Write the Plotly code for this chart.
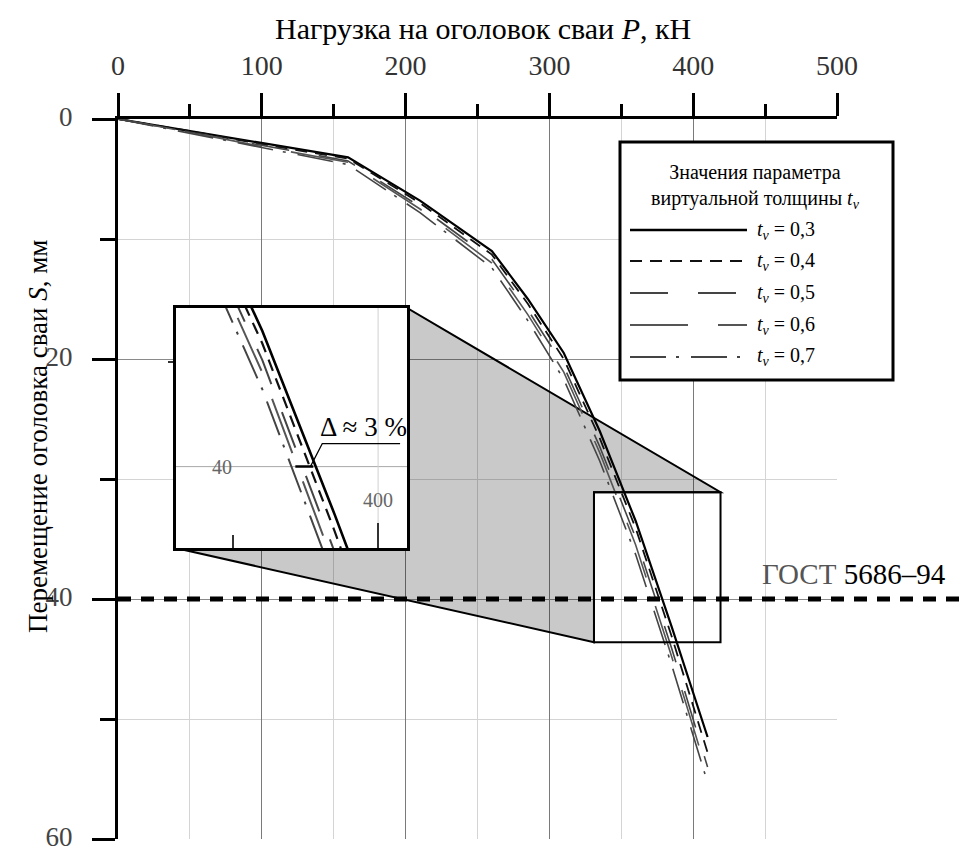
import plotly.graph_objects as go

# Load on the pile head, kN (common grid for every curve)
LOAD_KN = [0, 50, 100, 160, 210, 260, 285, 310, 335, 360, 385, 410]

# Pile head settlement, mm, for each value of the virtual thickness t_v
S_TV_03 = [0, 1.0, 2.0, 3.2, 6.8, 11.0, 15.0, 19.5, 26.0, 33.5, 42.3, 51.5]
S_TV_04 = [0, 1.0, 2.1, 3.3, 7.0, 11.3, 15.4, 20.0, 26.6, 34.1, 43.1, 52.8]
S_TV_05 = [0, 1.1, 2.2, 3.5, 7.3, 11.7, 15.9, 20.6, 27.3, 34.9, 44.1, 54.0]
S_TV_06 = [0, 1.1, 2.3, 3.6, 7.5, 12.0, 16.3, 21.1, 27.8, 35.5, 44.8, 54.6]
S_TV_07 = [0, 1.2, 2.4, 3.8, 7.8, 12.4, 16.8, 21.7, 28.5, 36.3, 45.5, 55.3]
TV_LABELS = ["0,3", "0,4", "0,5", "0,6", "0,7"]

X_TICKS = [0, 100, 200, 300, 400, 500]
X_MINOR = [50, 150, 250, 350, 450]
Y_TICKS = [0, 20, 40, 60]
Y_MINOR = [10, 30, 50]
GOST_LIMIT_MM = 40

# Zoomed window (main axes) and inset frame (main axes), plus inset ranges
ZOOM_P = (331, 419)
ZOOM_S = (31.1, 43.6)
INSET_FRAME_P = (40, 201)
INSET_FRAME_S = (15.75, 35.75)
INSET_RANGE_P = (330, 410)
INSET_RANGE_S = (32.4, 43.9)

SERIES = [S_TV_03, S_TV_04, S_TV_05, S_TV_06, S_TV_07]
STYLES = [
    dict(color="black", width=2.2, dash="solid"),
    dict(color="#111111", width=1.8, dash="12px,8px"),
    dict(color="#444444", width=1.6, dash="38px,30px"),
    dict(color="#555555", width=1.6, dash="58px,30px"),
    dict(color="#444444", width=1.6, dash="36px,10px,3px,12px"),
]

FONT = "Liberation Serif, Times New Roman, DejaVu Serif, serif"
X_MAX = X_TICKS[-1]
Y_MAX = Y_TICKS[-1]
L, R, T, B = 118, 123, 119, 13
W, H = 960, 852
PW, PH = W - L - R, H - T - B


def px(x):
    return (x - L) / PW


def py(y):
    return 1 - (y - T) / PH


fig = go.Figure()

for s, st in zip(SERIES, STYLES):
    fig.add_trace(go.Scatter(x=LOAD_KN, y=s, mode="lines", line=st,
                             xaxis="x", yaxis="y", showlegend=False, hoverinfo="skip"))
for s, st in zip(SERIES, STYLES):
    st2 = dict(st)
    st2["width"] = st["width"] + 0.4
    fig.add_trace(go.Scatter(x=LOAD_KN, y=s, mode="lines", line=st2,
                             xaxis="x2", yaxis="y2", showlegend=False, hoverinfo="skip"))

fig.update_layout(
    width=W, height=H,
    margin=dict(l=L, r=R, t=T, b=B, autoexpand=False),
    paper_bgcolor="white", plot_bgcolor="white",
    font=dict(family=FONT, color="black"),
    xaxis=dict(
        side="top", range=[0, X_MAX], domain=[0, 1], anchor="y", automargin=False,
        tickvals=X_TICKS, ticks="outside", ticklen=23, tickwidth=2.5, tickcolor="black",
        showline=True, linewidth=3, linecolor="black",
        showgrid=True, gridcolor="#7a7a7a", gridwidth=1, zeroline=False,
        tickfont=dict(size=28, color="#333333", family=FONT), ticklabelstandoff=7,
        ticklabeloverflow="allow",
        minor=dict(tickvals=X_MINOR, ticks="outside", ticklen=12, tickwidth=2.5,
                   tickcolor="black", showgrid=True, gridcolor="#d4d4d4", gridwidth=1),
    ),
    yaxis=dict(
        range=[Y_MAX, 0], domain=[0, 1], anchor="x", automargin=False,
        tickvals=Y_TICKS, ticks="outside", ticklen=23, tickwidth=2.5, tickcolor="black",
        showline=True, linewidth=3, linecolor="black",
        showgrid=True, gridcolor="#8a8a8a", gridwidth=1, zeroline=False,
        tickfont=dict(size=27, color="#444444", family=FONT), ticklabelstandoff=14,
        ticklabeloverflow="allow", ticklabelshift=2,
        minor=dict(tickvals=Y_MINOR, ticks="outside", ticklen=15, tickwidth=2.5,
                   tickcolor="black", showgrid=True, gridcolor="#d4d4d4", gridwidth=1),
    ),
    xaxis2=dict(
        domain=[INSET_FRAME_P[0] / X_MAX, INSET_FRAME_P[1] / X_MAX], anchor="y2",
        automargin=False,
        range=list(INSET_RANGE_P), tickvals=[400], ticks="inside", ticklen=25,
        tickwidth=2, tickcolor="#333333", showticklabels=False,
        showline=True, mirror=True, linewidth=2.5, linecolor="black",
        showgrid=False, zeroline=False,
        minor=dict(tickvals=[350], ticks="inside", ticklen=13, tickwidth=2,
                   tickcolor="#333333", showgrid=False),
    ),
    yaxis2=dict(
        domain=[1 - INSET_FRAME_S[1] / Y_MAX, 1 - INSET_FRAME_S[0] / Y_MAX], anchor="x2",
        automargin=False,
        range=[INSET_RANGE_S[1], INSET_RANGE_S[0]], tickvals=[40], ticks="",
        showticklabels=False,
        showline=True, mirror=True, linewidth=2.5, linecolor="black",
        showgrid=False, zeroline=False,
        minor=dict(tickvals=[35], ticks="outside", ticklen=5, tickwidth=2,
                   tickcolor="#333333", showgrid=False),
    ),
)

shapes = []
# grey connector between the zoom window and the inset (translucent so the grid shows)
shapes.append(dict(
    type="path", xref="x", yref="y", layer="between",
    path=(f"M {INSET_FRAME_P[0]},{INSET_FRAME_S[1]} L {INSET_FRAME_P[1]},{INSET_FRAME_S[1]} "
          f"L {INSET_FRAME_P[1]},{INSET_FRAME_S[0]} L {ZOOM_P[1]},{ZOOM_S[0]} "
          f"L {ZOOM_P[0]},{ZOOM_S[0]} L {ZOOM_P[0]},{ZOOM_S[1]} Z"),
    fillcolor="rgba(0,0,0,0.21)", line=dict(color="black", width=2),
))
# zoom window frame
shapes.append(dict(type="rect", xref="x", yref="y", layer="above",
                   x0=ZOOM_P[0], x1=ZOOM_P[1], y0=ZOOM_S[0], y1=ZOOM_S[1],
                   line=dict(color="black", width=2), fillcolor="rgba(0,0,0,0)"))
# white background of the inset
shapes.append(dict(type="rect", xref="x2", yref="y2", layer="below",
                   x0=INSET_RANGE_P[0], x1=INSET_RANGE_P[1],
                   y0=INSET_RANGE_S[0], y1=INSET_RANGE_S[1],
                   line=dict(width=0), fillcolor="white"))
# inset grid lines
shapes.append(dict(type="line", xref="x2", yref="y2", layer="between",
                   x0=INSET_RANGE_P[0], x1=INSET_RANGE_P[1], y0=40, y1=40,
                   line=dict(color="#a8a8a8", width=1)))
shapes.append(dict(type="line", xref="x2", yref="y2", layer="between",
                   x0=400, x1=400, y0=INSET_RANGE_S[0], y1=INSET_RANGE_S[1],
                   line=dict(color="#d0d0d0", width=1)))
# GOST 5686-94 limit line
shapes.append(dict(type="line", xref="paper", yref="y", layer="above",
                   x0=0, x1=px(W), y0=GOST_LIMIT_MM, y1=GOST_LIMIT_MM,
                   line=dict(color="black", width=5, dash="13px,10px")))
# delta marker inside the inset
shapes.append(dict(type="line", xref="x2", yref="y2", layer="above",
                   x0=371.4, x1=377.6, y0=40, y1=40, line=dict(color="black", width=2.5)))
shapes.append(dict(type="path", xref="x2", yref="y2", layer="above",
                   path="M 376.6,40 L 380.7,38.9 L 407.6,38.9",
                   line=dict(color="black", width=1.2)))

# legend box
shapes.append(dict(type="rect", xref="paper", yref="paper", layer="above",
                   x0=px(620), x1=px(893), y0=py(380), y1=py(142),
                   line=dict(color="black", width=3), fillcolor="white"))
legend_rows = [230, 261, 293, 325, 357]
for yy, st in zip(legend_rows, STYLES):
    shapes.append(dict(type="line", xref="paper", yref="paper", layer="above",
                       x0=px(630), x1=px(747), y0=py(yy), y1=py(yy),
                       line=dict(color=st["color"], width=st["width"] + 0.4, dash=st["dash"])))

annotations = [
    dict(text="Нагрузка на оголовок сваи <i>P</i>, кН", xref="paper", yref="paper",
         x=px(483), y=py(28), xanchor="center", yanchor="middle", showarrow=False,
         font=dict(size=30, family=FONT, color="black")),
    dict(text="Перемещение оголовка сваи <i>S</i>, мм", xref="paper", yref="paper",
         x=px(38), y=py(437), xanchor="center", yanchor="middle", showarrow=False,
         textangle=-90, font=dict(size=27, family=FONT, color="black")),
    dict(text="<span style='color:#555555'>ГОСТ</span> 5686–94", xref="paper", yref="paper",
         x=px(760), y=py(574), xanchor="left", yanchor="middle", showarrow=False,
         font=dict(size=29, family=FONT, color="black")),
    dict(text="Значения параметра<br>виртуальной толщины <i>t</i><sub><i>v</i></sub>",
         xref="paper", yref="paper", x=px(755), y=py(186), xanchor="center",
         yanchor="middle", showarrow=False, font=dict(size=20, family=FONT, color="black")),
    dict(text="Δ ≈ 3 %", xref="x2", yref="y2", x=394.8, y=38.1, xanchor="center",
         yanchor="middle", showarrow=False, font=dict(size=27, family=FONT, color="black")),
    dict(text="40", xref="x2", yref="y2", x=346.2, y=40, xanchor="center",
         yanchor="middle", showarrow=False, font=dict(size=20, family=FONT, color="#666666")),
    dict(text="400", xref="x2", yref="y2", x=400, y=41.6, xanchor="center",
         yanchor="middle", showarrow=False, font=dict(size=20, family=FONT, color="#666666")),
]
for yy, lab in zip(legend_rows, TV_LABELS):
    annotations.append(dict(
        text=f"<i>t</i><sub><i>v</i></sub> = {lab}", xref="paper", yref="paper",
        x=px(755), y=py(yy), xanchor="left", yanchor="middle", showarrow=False,
        font=dict(size=20, family=FONT, color="black")))

fig.update_layout(shapes=shapes, annotations=annotations)
fig.write_html("out.html")
